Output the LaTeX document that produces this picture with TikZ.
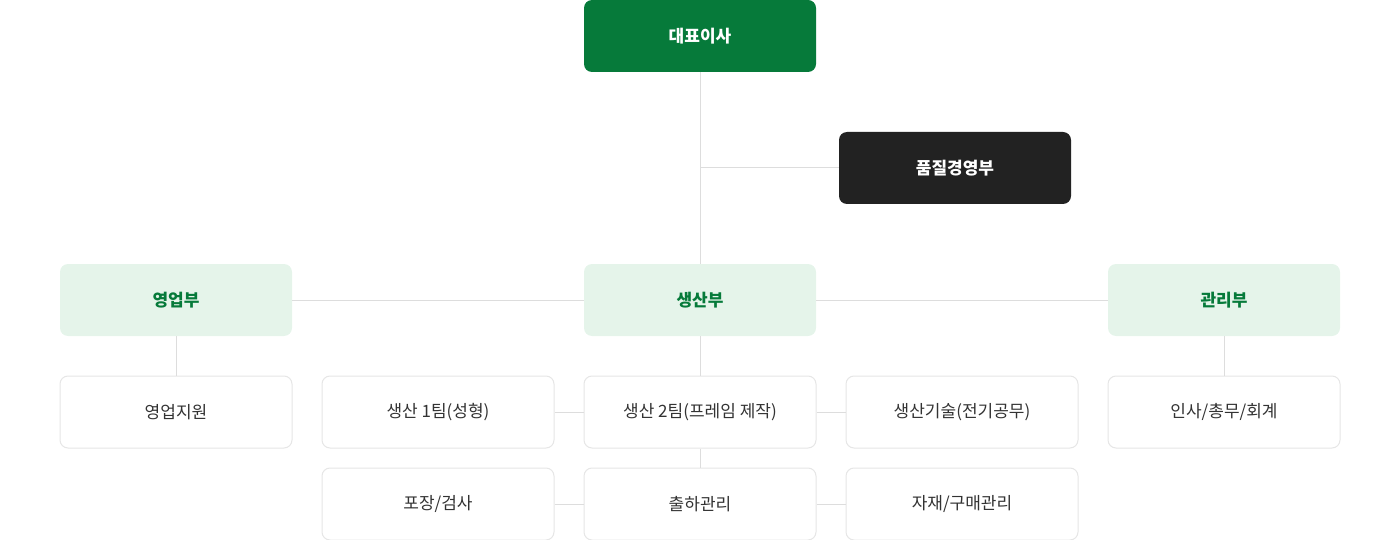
\documentclass[tikz,border=0pt]{standalone}
\usepackage{fontspec}
\setmainfont{Noto Sans CJK KR}
\newfontfamily\krb{Noto Sans CJK KR}[BoldFont={* Bold}]
\definecolor{dg}{HTML}{067A3A}
\definecolor{lg}{HTML}{E5F4EA}
\definecolor{dk}{HTML}{222222}
\definecolor{ln}{HTML}{DDDDDD}
\definecolor{bd}{HTML}{E6E6E6}
\definecolor{tx}{HTML}{333333}
\begin{document}
\begin{tikzpicture}[x=1pt,y=-1pt,
 box/.style={rectangle,rounded corners=8pt,minimum width=232pt,minimum height=72pt,inner sep=0pt,font=\fontsize{17}{20}\selectfont},
 top/.style={box,fill=dg,text=white,font=\fontsize{17}{20}\selectfont\bfseries},
 dark/.style={box,fill=dk,text=white,font=\fontsize{17}{20}\selectfont\bfseries},
 dept/.style={box,fill=lg,text=dg,font=\fontsize{17}{20}\selectfont\bfseries},
 team/.style={box,fill=white,draw=bd,line width=1pt,text=tx},
 con/.style={draw=ln,line width=1pt}]
\useasboundingbox (0,0) rectangle (1400,540);
\node[top] (ceo) at (700,36) {대표이사};
\node[dark] (qm) at (955,168) {품질경영부};
\node[dept] (sales) at (176,300) {영업부};
\node[dept] (prod) at (700,300) {생산부};
\node[dept] (adm) at (1224,300) {관리부};
\node[team] (s1) at (176,412) {영업지원};
\node[team] (p1) at (438,412) {생산 1팀(성형)};
\node[team] (p2) at (700,412) {생산 2팀(프레임 제작)};
\node[team] (pt) at (962,412) {생산기술(전기공무)};
\node[team] (a1) at (1224,412) {인사/총무/회계};
\node[team] (pk) at (438,504) {포장/검사};
\node[team] (sh) at (700,504) {출하관리};
\node[team] (mt) at (962,504) {자재/구매관리};
\coordinate (j) at (700,168);
\path[con] (ceo.south) -- (prod.north);
\path[con] (j) -- (qm.west);
\path[con] (sales.east) -- (prod.west);
\path[con] (prod.east) -- (adm.west);
\path[con] (sales.south) -- (s1.north);
\path[con] (prod.south) -- (p2.north);
\path[con] (adm.south) -- (a1.north);
\path[con] (p1.east) -- (p2.west);
\path[con] (p2.east) -- (pt.west);
\path[con] (p2.south) -- (sh.north);
\path[con] (pk.east) -- (sh.west);
\path[con] (sh.east) -- (mt.west);
\end{tikzpicture}
\end{document}
